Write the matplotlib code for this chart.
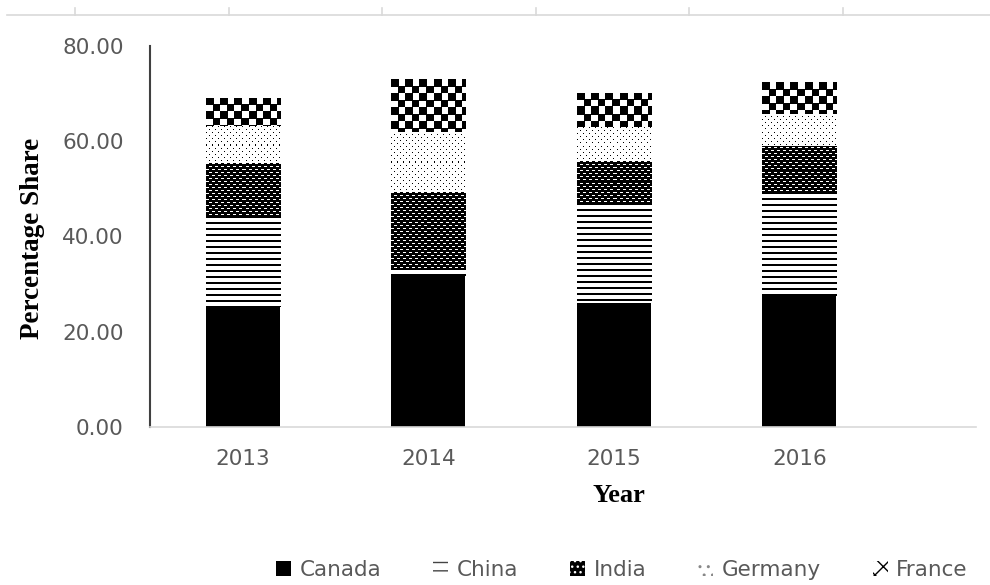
import numpy as np
import matplotlib
matplotlib.use("Agg")
import matplotlib.pyplot as plt
from matplotlib.patches import Patch

years = ["2013", "2014", "2015", "2016"]
canada = [25.1, 31.7, 26.1, 27.4]
china = [19.1, 1.6, 20.9, 21.8]
india = [11.3, 16.1, 8.9, 9.7]
germany = [7.6, 12.6, 7.0, 6.8]
france = [6.0, 11.1, 7.2, 6.7]

series = [("Canada", canada), ("China", china), ("India", india),
          ("Germany", germany), ("France", france)]

# small pixel tiles used to fill the bars (1 = black, 0 = white)
tiles = {}
tiles["China"] = np.array([[1], [1], [0], [0], [0], [0]])
t = np.ones((6, 6))
t[1, 0:3] = 0
t[4, 3:6] = 0
tiles["India"] = t
t = np.zeros((6, 6))
t[0, 0] = 1
t[3, 3] = 1
tiles["Germany"] = t
t = np.zeros((14, 14))
t[:8, :8] = 1
t[7:, 7:] = 1
tiles["France"] = t

grey = "#595959"

fig = plt.figure(figsize=(9.9, 5.85), dpi=100)
ax = fig.add_axes([0.1515, 0.2701, 0.834, 0.6513])
ax.set_xlim(-0.5, 3.95)
ax.set_ylim(0, 80)

x = np.arange(len(years))
bottom = np.zeros(len(years))
bars = {}
for name, vals in series:
    fc = "black" if name == "Canada" else "white"
    bars[name] = ax.bar(x, vals, width=0.4, bottom=bottom, color=fc,
                        linewidth=0, zorder=2)
    bottom += np.array(vals)

fig.canvas.draw()


def fill_pattern(rect, tile):
    x0, y0 = rect.get_x(), rect.get_y()
    x1, y1 = x0 + rect.get_width(), y0 + rect.get_height()
    (px0, py0), (px1, py1) = ax.transData.transform([(x0, y0), (x1, y1)])
    w = max(int(round(px1 - px0)), 1)
    h = max(int(round(py1 - py0)), 1)
    th, tw = tile.shape
    img = np.tile(tile, (h // th + 2, w // tw + 2))[:h, :w]
    im = ax.imshow(img, extent=[x0, x1, y0, y1], origin="upper", cmap="gray_r",
                   vmin=0, vmax=1, interpolation="nearest", aspect="auto",
                   zorder=3)
    im.set_clip_path(rect)


for name in ["China", "India", "Germany", "France"]:
    for rect in bars[name]:
        fill_pattern(rect, tiles[name])

ax.set_xlim(-0.5, 3.95)
ax.set_ylim(0, 80)

ax.set_xticks(x)
ax.set_xticklabels(years)
ax.set_yticks([0, 20, 40, 60, 80])
ax.set_yticklabels(["%.2f" % v for v in [0, 20, 40, 60, 80]])
ax.tick_params(axis="both", length=0, labelsize=15.5, labelcolor=grey)
ax.tick_params(axis="y", pad=19)
ax.tick_params(axis="x", pad=16)

for s in ["top", "right"]:
    ax.spines[s].set_visible(False)
ax.spines["left"].set_color("#404040")
ax.spines["left"].set_linewidth(1.5)
ax.spines["bottom"].set_color("#d9d9d9")
ax.spines["bottom"].set_linewidth(1.2)

fig.text(33 / 990, 1 - 238 / 585, "Percentage Share", rotation=90,
         ha="center", va="center", fontsize=19.5, fontweight="bold",
         family="Liberation Serif")
fig.text(619 / 990, 1 - 496 / 585, "Year", ha="center", va="center",
         fontsize=19, fontweight="bold", family="Liberation Serif")

# leftover frame of a neighbouring chart at the top edge
fig.add_artist(plt.Line2D([7 / 990, 1], [1 - 15 / 585] * 2, color="#d9d9d9",
                          lw=1.2, transform=fig.transFigure))
for k in range(6):
    xt = (75 + 153.5 * k) / 990
    fig.add_artist(plt.Line2D([xt, xt], [1 - 8 / 585, 1 - 15 / 585],
                              color="#d9d9d9", lw=1.2,
                              transform=fig.transFigure))

handles = [
    Patch(facecolor="black", linewidth=0),
    Patch(facecolor="white", edgecolor="#444444", hatch="--", linewidth=0),
    Patch(facecolor="black", edgecolor="white", hatch="...", linewidth=0),
    Patch(facecolor="white", edgecolor="#888888", hatch="..", linewidth=0),
    Patch(facecolor="white", edgecolor="black", hatch="XX", linewidth=0),
]
leg = fig.legend(handles, [n for n, _ in series], loc="center",
                 bbox_to_anchor=(622 / 990, 1 - 570 / 585), ncol=5,
                 frameon=False, fontsize=15.5, handlelength=0.7,
                 handleheight=0.7, handletextpad=0.4, columnspacing=2.4,
                 labelcolor=grey)

fig.savefig("out.png", dpi=100)
